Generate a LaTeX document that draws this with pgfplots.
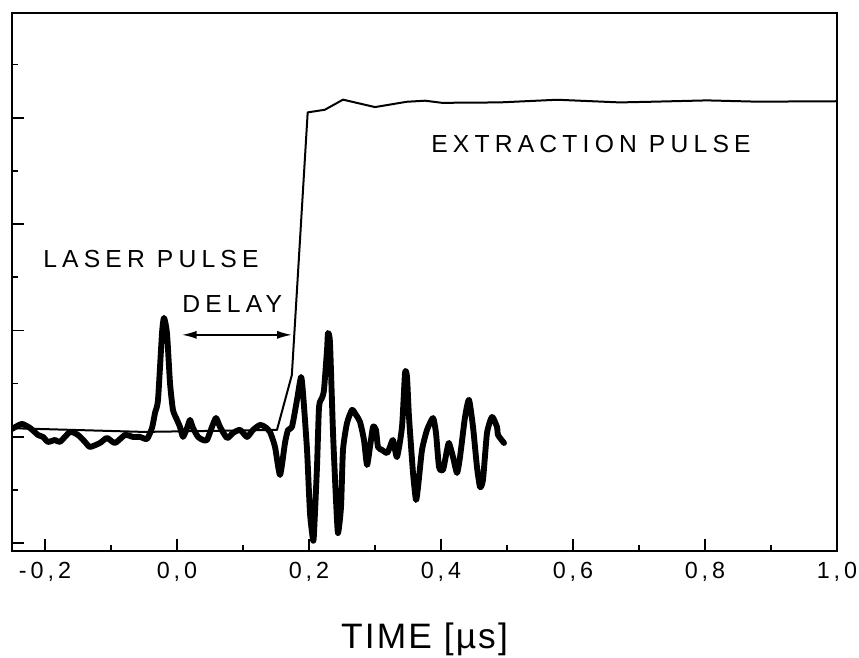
\documentclass[border=0pt]{standalone}
\usepackage{fontspec}
\setmainfont{Liberation Sans}
\newfontfamily\tickfont{Liberation Sans}[LetterSpace=17]
\newfontfamily\annfont{Liberation Sans}[LetterSpace=21]
\newfontfamily\titlefont{Liberation Sans}[LetterSpace=6]
\usepackage{pgfplots}
\pgfplotsset{compat=1.18}
\usetikzlibrary{arrows.meta}
\begin{document}
\begin{tikzpicture}
\useasboundingbox (-9pt,-79.5pt) rectangle (635.25pt,413.25pt);
\begin{axis}[
  scale only axis,
  width=618.75pt, height=403.5pt,
  xmin=-0.25, xmax=1.0,
  ymin=-0.075, ymax=4.985,
  axis line style={line width=1.3pt},
  xtick={-0.2,0,0.2,0.4,0.6,0.8,1.0},
  xticklabels={{-0,2},{0,0},{0,2},{0,4},{0,6},{0,8},{1,0}},
  minor xtick={-0.1,0.1,0.3,0.5,0.7,0.9},
  ytick={0,1,2,3,4},
  minor ytick={0.5,1.5,2.5,3.5,4.5},
  yticklabels={},
  xtick pos=bottom, ytick pos=left,
  tick align=inside,
  major tick length=9pt, minor tick length=4.5pt,
  every tick/.style={line width=1.2pt, black},
  xticklabel style={font=\tickfont\fontsize{17.5}{20}\selectfont, yshift=-5pt},
  xlabel={TIME [µs]},
  xlabel style={font=\titlefont\fontsize{26.5}{30}\selectfont, at={(axis description cs:0.5,0)}, anchor=base, yshift=-72.75pt},
]
% extraction pulse (thin)
\addplot[black, line width=1.5pt, line join=round] coordinates {
(-0.25,1.08) (-0.05,1.045) (0.1515,1.064) (0.174,1.58) (0.198,4.05) (0.224,4.075)
(0.2515,4.17) (0.30,4.10) (0.348,4.15) (0.376,4.16) (0.4015,4.14) (0.489,4.144)
(0.576,4.169) (0.671,4.144) (0.717,4.15) (0.803,4.163) (0.879,4.151) (1.0,4.155)
};
% laser pulse signal (thick)
\addplot[black, line width=4.4pt, line join=round, line cap=round, smooth, tension=0.35] coordinates {
(-0.25,1.073) (-0.2353,1.120) (-0.2227,1.082) (-0.2106,1.016) (-0.2030,0.998)
(-0.1955,0.951) (-0.1848,0.969) (-0.1773,0.951) (-0.1621,1.045) (-0.15,1.016)
(-0.1394,0.951) (-0.1318,0.904) (-0.1167,0.941) (-0.1061,0.988) (-0.0939,0.941)
(-0.0788,1.016) (-0.0667,0.998) (-0.0561,0.998) (-0.0455,0.979) (-0.0379,1.082)
(-0.0333,1.224) (-0.0288,1.346) (-0.0227,1.976) (-0.0197,2.118) (-0.0152,1.976)
(-0.0106,1.506) (-0.0061,1.252) (0.0,1.158) (0.0045,1.092) (0.0091,0.998)
(0.0152,1.082) (0.0197,1.158) (0.0242,1.082) (0.0318,0.998) (0.0394,0.969)
(0.0455,0.969) (0.0530,1.092) (0.0591,1.176) (0.0652,1.092) (0.0758,0.988)
(0.0848,1.035) (0.0955,1.064) (0.1061,0.998) (0.1152,1.064) (0.1258,1.111)
(0.1333,1.092) (0.1409,1.045) (0.1485,0.904) (0.1561,0.640) (0.1636,0.941)
(0.1682,1.064) (0.1742,1.092) (0.1818,1.346) (0.1879,1.562) (0.1909,1.412)
(0.1970,0.875) (0.2015,0.282) (0.2061,0.028) (0.2076,0.094) (0.2121,0.715)
(0.2152,1.280) (0.2197,1.365) (0.2227,1.440) (0.2273,1.816) (0.2288,1.976)
(0.2318,1.882) (0.2364,1.035) (0.2409,0.405) (0.2439,0.094) (0.2485,0.339)
(0.2515,0.875) (0.2576,1.129) (0.2652,1.252) (0.2712,1.205) (0.2773,1.139)
(0.2833,0.969) (0.2879,0.734) (0.2924,0.904) (0.2970,1.092) (0.3015,1.064)
(0.3045,0.904) (0.3106,0.875) (0.3182,0.847) (0.3227,0.904) (0.3273,0.969)
(0.3333,0.809) (0.3409,1.092) (0.3455,1.600) (0.3485,1.562) (0.3515,1.186)
(0.3576,0.659) (0.3621,0.405) (0.3652,0.527) (0.3712,0.875) (0.3788,1.064)
(0.3879,1.176) (0.3924,1.035) (0.3970,0.715) (0.4030,0.687) (0.4091,0.875)
(0.4121,0.941) (0.4182,0.809) (0.4242,0.659) (0.4288,0.809) (0.4364,1.186)
(0.4424,1.346) (0.4485,1.092) (0.4545,0.715) (0.4591,0.527) (0.4636,0.593)
(0.4697,1.035) (0.4773,1.186) (0.4848,1.092) (0.4864,1.016) (0.4955,0.941)
};
\node[anchor=base west, inner sep=0pt, font=\annfont\fontsize{18.5}{22}\selectfont] at (axis cs:0.385,3.67) {EXTRACTION PULSE};
\node[anchor=base west, inner sep=0pt, font=\annfont\fontsize{18.5}{22}\selectfont] at (axis cs:-0.203,2.588) {LASER PULSE};
\node[anchor=base west, inner sep=0pt, font=\annfont\fontsize{18.5}{22}\selectfont] at (axis cs:0.0076,2.165) {DELAY};
\draw[{Latex[length=11pt,width=6pt]}-{Latex[length=11pt,width=6pt]}, line width=1.1pt] (axis cs:0.0076,1.958) -- (axis cs:0.174,1.958);
\end{axis}
\end{tikzpicture}
\end{document}
